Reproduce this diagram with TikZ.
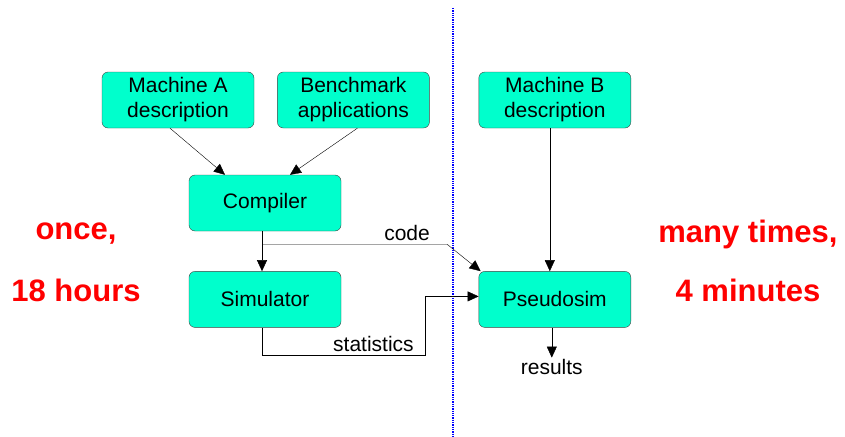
\documentclass[tikz,border=0pt]{standalone}
\usepackage{fontspec}
\setmainfont{Liberation Sans}
\usepackage{xcolor}
\definecolor{boxFill}{HTML}{00FFCC}
\definecolor{boxLine}{HTML}{404040}
\definecolor{noteRed}{HTML}{FF0000}
\definecolor{splitBlue}{HTML}{0000FF}
\usepackage{tikz}
\usetikzlibrary{positioning,calc,arrows.meta}
\tikzset{%
  stageBox/.style={%
    rectangle,
    rounded corners=6pt,
    draw=boxLine,
    fill=boxFill,
    minimum width=152pt,
    minimum height=56pt,
    align=center,
    font=\fontsize{21}{25}\selectfont
  },
  flowArrow/.style={%
    -{Triangle[length=11pt,width=10pt]},
    thin,
    color=black
  },
  runNote/.style={%
    text=noteRed,
    font=\fontsize{31}{37}\bfseries\selectfont
  },
  edgeText/.style={%
    font=\fontsize{21}{25}\selectfont,
    inner sep=1pt
  },
  splitLine/.style={%
    draw=splitBlue,
    line width=1.3pt,
    dash pattern=on 1.3pt off 1pt
  }
}

\begin{document}
\begin{tikzpicture}[x=1pt,y=-1pt]
            \useasboundingbox (0,0) rectangle (845,436);

            \node[stageBox] (machA) at (178,100) {Machine A\\description};
            \node[stageBox, right=23pt of machA] (bench) {Benchmark\\applications};
            \node[stageBox, right=49pt of bench] (machB) {Machine B\\description};
            \node[stageBox] (compiler) at (265,203) {Compiler};
            \node[stageBox, below=40pt of compiler] (sim) {Simulator};
            \node[stageBox] (pseudo) at (machB |- sim) {Pseudosim};
            \node[edgeText, below=30pt of pseudo, xshift=-3pt] (results) {results};

            % split between the two phases
            \coordinate (splitTop) at (453,8);
            \coordinate (splitBot) at (453,436);
            \draw[splitLine] (splitTop) -- (splitBot);

            \node[runNote] (once) at (76,234) {once,};
            \node[runNote] (hours) at (76,290) {18 hours};
            \node[runNote] (many) at (748,234) {many times,};
            \node[runNote] (minutes) at (748,290) {4 minutes};

            \draw[flowArrow] ([xshift=-8pt]machA.south) -- ([xshift=-40pt]compiler.north);
            \draw[flowArrow] ([xshift=4pt]bench.south) -- ([xshift=25pt]compiler.north);
            \draw[flowArrow] ([xshift=-5pt]machB.south) -- ([xshift=-5pt]pseudo.north);
            \draw[flowArrow] ([xshift=-3pt]compiler.south) -- ([xshift=-3pt]sim.north);
            \coordinate (codeStart) at ([xshift=-3pt,yshift=-13pt]compiler.south);
            \draw[flowArrow] (codeStart) -- ++(185,0) coordinate (codeBend) -- ([xshift=2pt]pseudo.north west);
            \node[edgeText, above left=2pt and 16pt of codeBend] (code) {code};
            \draw[flowArrow] ([xshift=-3pt]sim.south) -- ++(0,28) coordinate (statStart)
              -| ([xshift=-53pt,yshift=3pt]pseudo.west) -- ([yshift=3pt]pseudo.west);
            \node[edgeText, above right=3pt and 70pt of statStart] (stats) {statistics};
            \draw[flowArrow] (results.north |- pseudo.south) -- (results.north);
        \end{tikzpicture}
\end{document}
